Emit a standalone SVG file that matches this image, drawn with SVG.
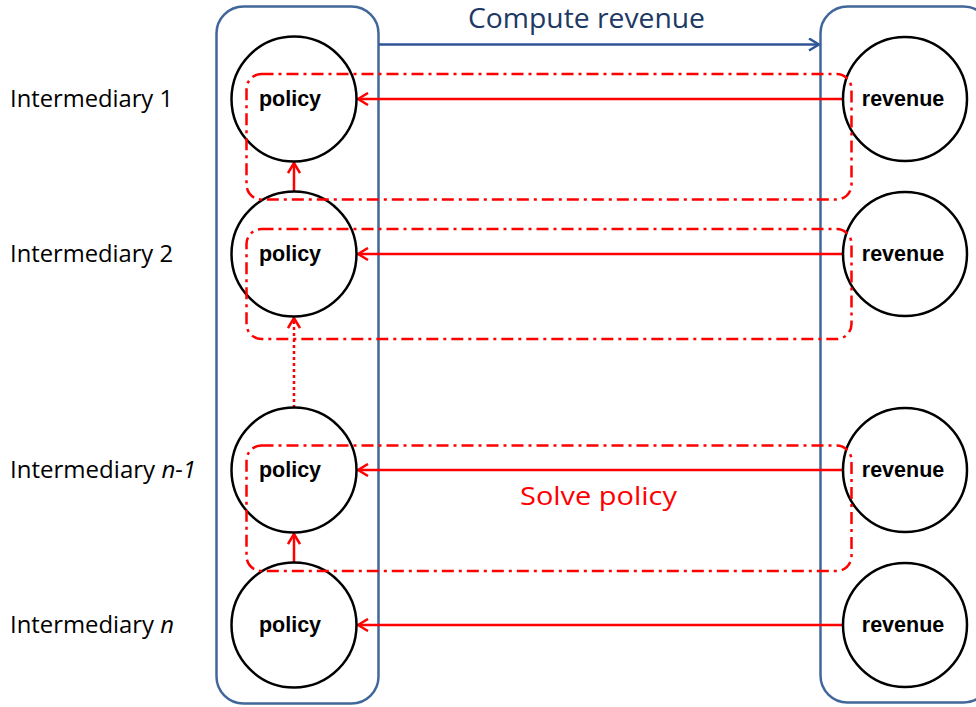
<svg xmlns="http://www.w3.org/2000/svg" width="976" height="707" viewBox="0 0 976 707">
<defs>
<style>
.cont{fill:none;stroke:#41679A;stroke-width:2.5}
.node{fill:#fff;stroke:#000;stroke-width:2.5}
.lbl{font-family:"Liberation Sans",Arial,sans-serif;font-size:21.5px;font-weight:bold;text-anchor:middle;fill:#000}
.side{font-family:"Open Sans","Liberation Sans",sans-serif;font-size:24px;fill:#000}
.red{stroke:#FF0000;stroke-width:2.5;fill:none}
.group{fill:none;stroke:#FF0000;stroke-width:2.5;stroke-dasharray:12 5 3 5}
</style>
<marker id="ar" viewBox="0 0 12 14" refX="11" refY="7" markerWidth="12" markerHeight="14" markerUnits="userSpaceOnUse" orient="auto">
<path d="M1,1 L11,7 L1,13" fill="none" stroke="#FF0000" stroke-width="2.5"/>
</marker>
<marker id="ab" viewBox="0 0 12 14" refX="11" refY="7" markerWidth="12" markerHeight="14" markerUnits="userSpaceOnUse" orient="auto">
<path d="M1,1 L11,7 L1,13" fill="none" stroke="#2F5597" stroke-width="2.5"/>
</marker>
</defs>
<rect width="976" height="707" fill="#fff"/>
<g id="containers">
<rect class="cont" x="216.5" y="6.5" width="162" height="697" rx="27"/>
<rect class="cont" x="820.5" y="6.5" width="170" height="696" rx="27"/>
</g>
<g id="connectors">
<line x1="379" y1="44.5" x2="819" y2="44.5" stroke="#2F5597" stroke-width="2.5" marker-end="url(#ab)"/>
<line class="red" x1="843" y1="99" x2="358" y2="99" marker-end="url(#ar)"/>
<line class="red" x1="843" y1="254" x2="358" y2="254" marker-end="url(#ar)"/>
<line class="red" x1="843" y1="470" x2="358" y2="470" marker-end="url(#ar)"/>
<line class="red" x1="843" y1="625" x2="358" y2="625" marker-end="url(#ar)"/>
<line class="red" x1="294" y1="191" x2="294" y2="163" marker-end="url(#ar)"/>
<line class="red" x1="294" y1="562" x2="294" y2="534" marker-end="url(#ar)"/>
<line class="red" x1="294" y1="408" x2="294" y2="318" stroke-dasharray="3 3" marker-end="url(#ar)"/>
</g>
<g id="policy1"><circle class="node" cx="294" cy="99" r="62.5"/><text class="lbl" x="290" y="106">policy</text></g>
<g id="policy2"><circle class="node" cx="294" cy="254" r="62.5"/><text class="lbl" x="290" y="261">policy</text></g>
<g id="policy3"><circle class="node" cx="294" cy="470" r="62.5"/><text class="lbl" x="290" y="477">policy</text></g>
<g id="policy4"><circle class="node" cx="294" cy="625" r="62.5"/><text class="lbl" x="290" y="632">policy</text></g>
<g id="revenue1"><circle class="node" cx="905" cy="99" r="62"/><text class="lbl" x="903" y="106">revenue</text></g>
<g id="revenue2"><circle class="node" cx="905" cy="254" r="62"/><text class="lbl" x="903" y="261">revenue</text></g>
<g id="revenue3"><circle class="node" cx="905" cy="470" r="62"/><text class="lbl" x="903" y="477">revenue</text></g>
<g id="revenue4"><circle class="node" cx="905" cy="625" r="62"/><text class="lbl" x="903" y="632">revenue</text></g>
<g id="groups">
<rect class="group" x="246.5" y="74" width="605" height="125.5" rx="15"/>
<rect class="group" x="246.5" y="229" width="605" height="110" rx="15"/>
<rect class="group" x="246.5" y="445.5" width="605" height="125.5" rx="15"/>
</g>
<g id="labels">
<text class="side" x="10" y="107" textLength="163" lengthAdjust="spacingAndGlyphs">Intermediary 1</text>
<text class="side" x="10" y="262" textLength="163" lengthAdjust="spacingAndGlyphs">Intermediary 2</text>
<text class="side" x="10" y="478" textLength="186" lengthAdjust="spacingAndGlyphs">Intermediary <tspan font-style="italic">n-1</tspan></text>
<text class="side" x="10" y="633" textLength="164" lengthAdjust="spacingAndGlyphs">Intermediary <tspan font-style="italic">n</tspan></text>
<text x="468" y="28" font-family="Open Sans,Liberation Sans,sans-serif" font-size="26.5" fill="#203864" textLength="237" lengthAdjust="spacingAndGlyphs">Compute revenue</text>
<text x="520" y="505" font-family="Open Sans,Liberation Sans,sans-serif" font-size="26" fill="#FF0000" textLength="157" lengthAdjust="spacingAndGlyphs">Solve policy</text>
</g>
</svg>
